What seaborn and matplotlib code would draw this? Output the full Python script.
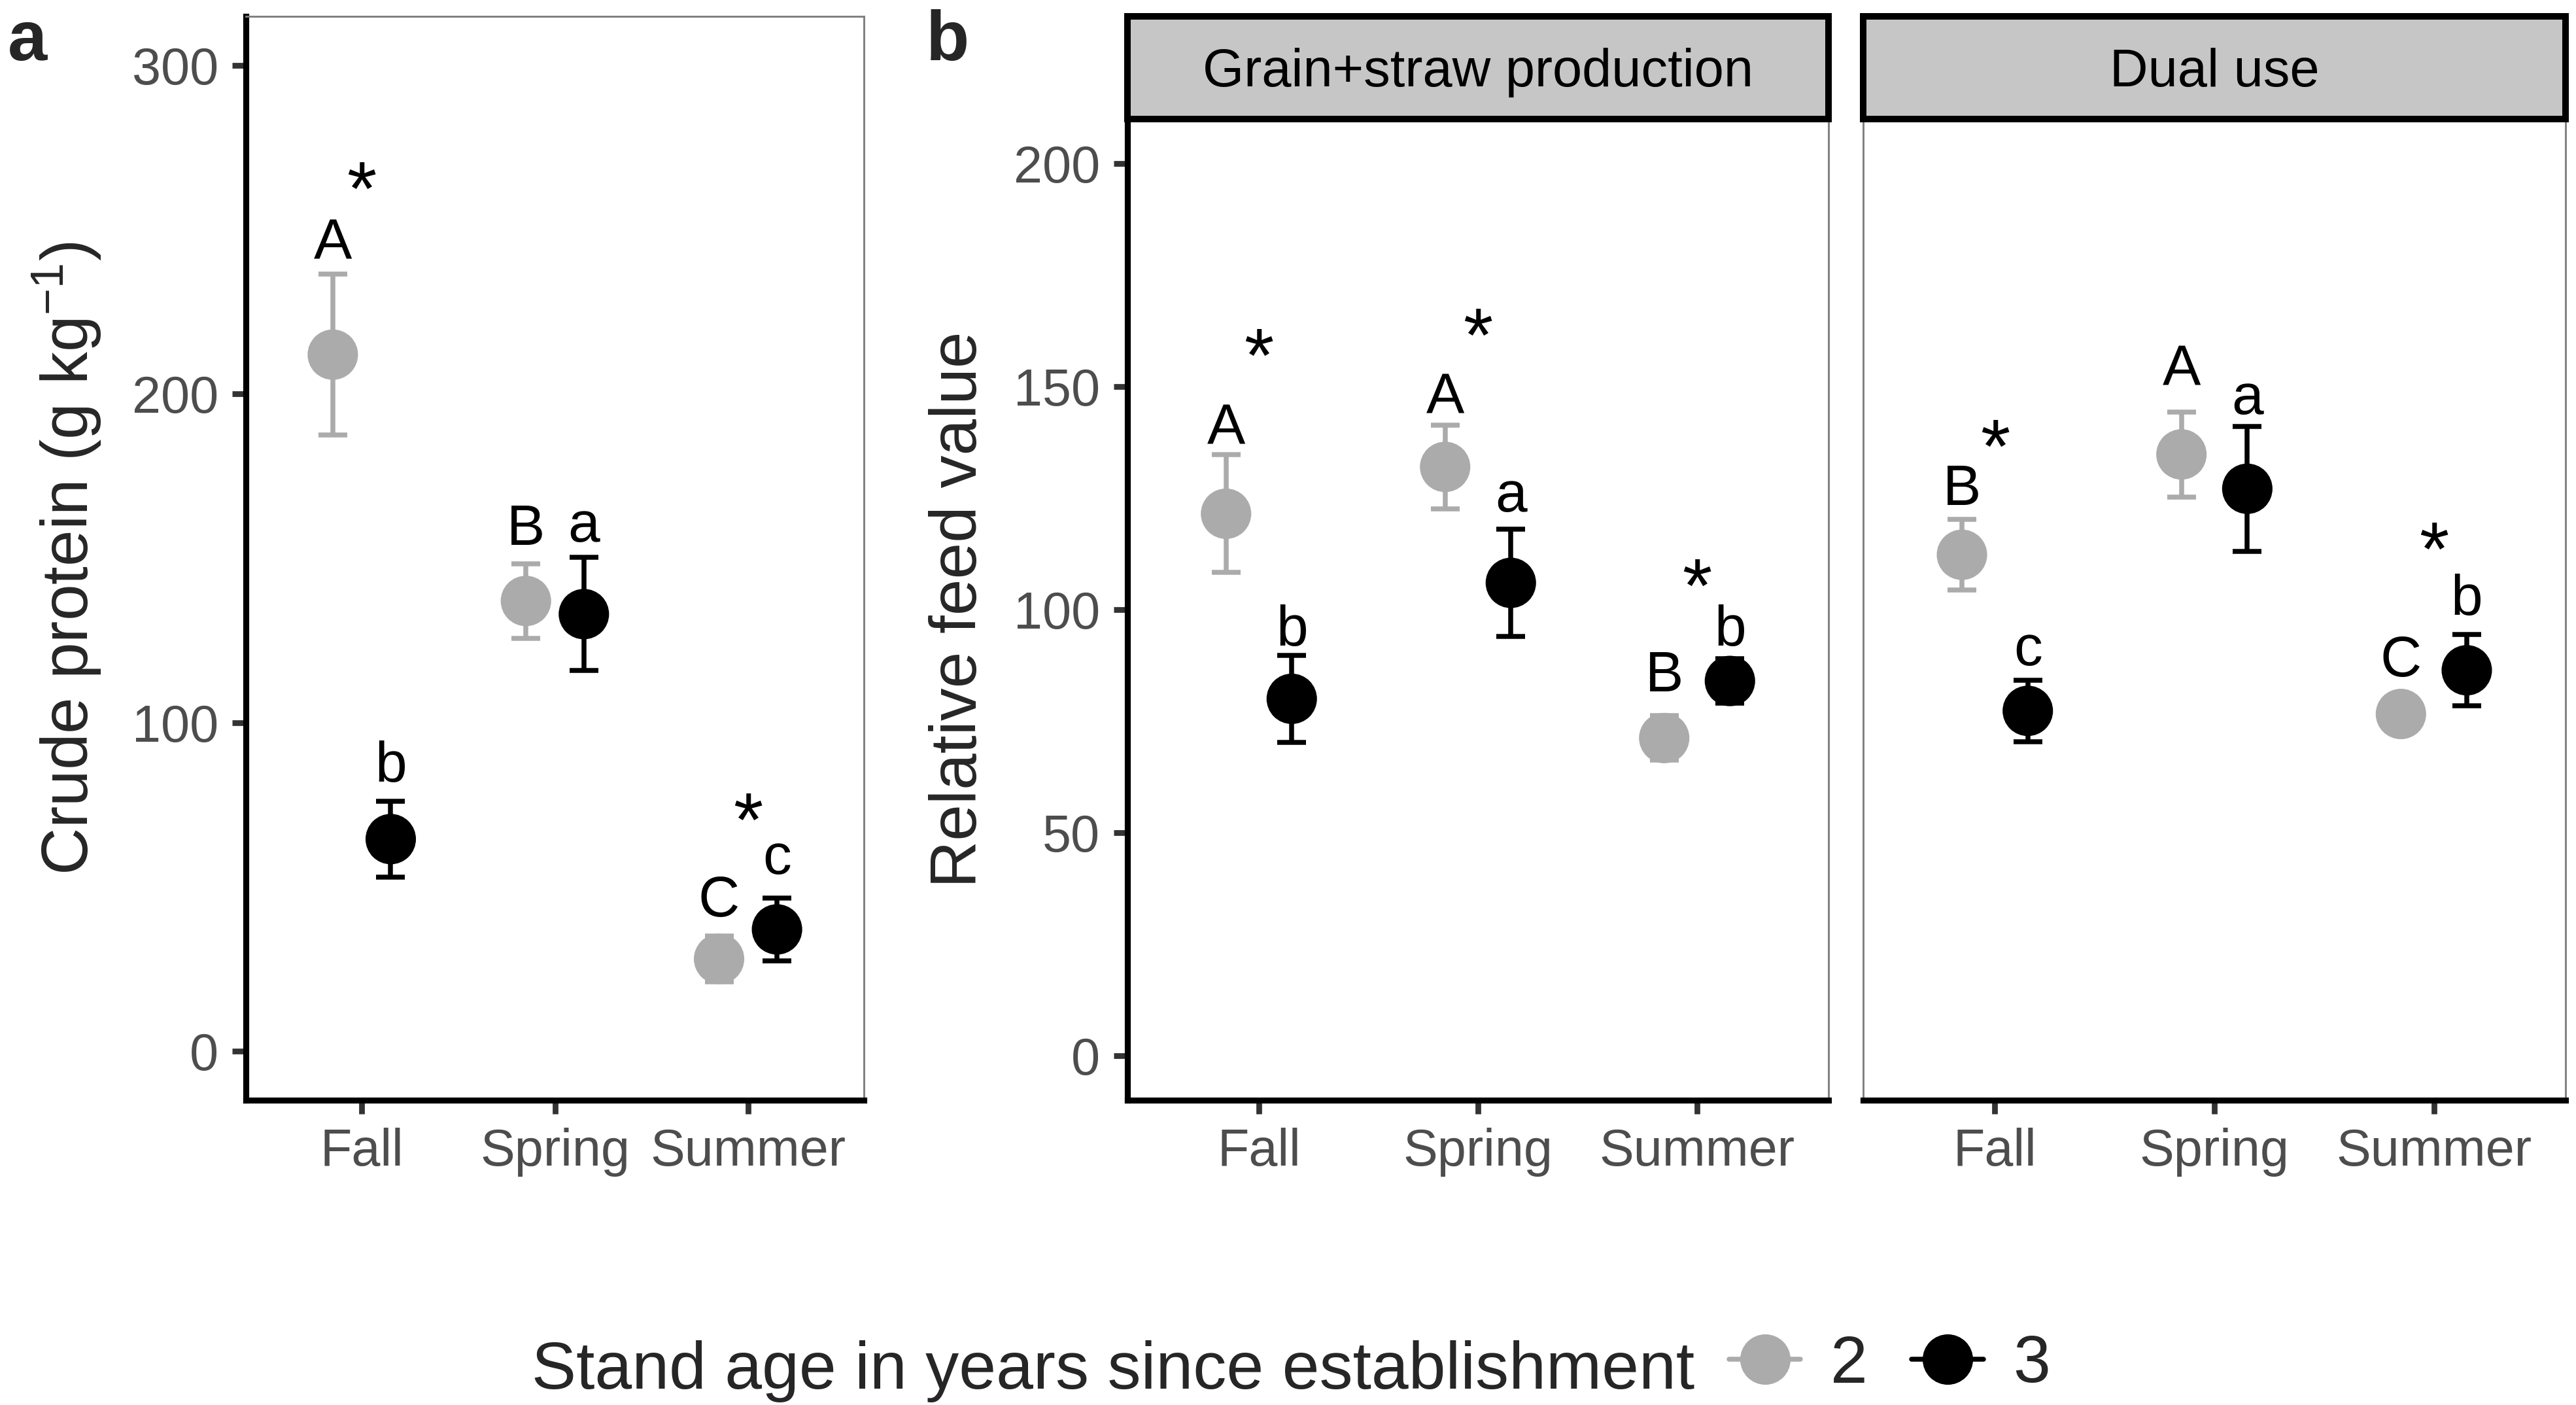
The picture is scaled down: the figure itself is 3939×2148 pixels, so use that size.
import numpy as np
import pandas as pd
import matplotlib
matplotlib.use("Agg")
import matplotlib.pyplot as plt
from matplotlib.lines import Line2D
import seaborn as sns

sns.set_style("white")
plt.rcParams["font.family"] = ["Liberation Sans", "DejaVu Sans"]
plt.rcParams["mathtext.fontset"] = "custom"
plt.rcParams["mathtext.rm"] = "Liberation Sans"
plt.rcParams["mathtext.it"] = "Liberation Sans:italic"
plt.rcParams["mathtext.bf"] = "Liberation Sans:bold"

seasons = ["Fall", "Spring", "Summer"]
ages = ["2", "3"]

# panel a - crude protein (g kg-1)
cp_mean_2 = [212, 137, 28]
cp_se_2 = [24.5, 11.3, 7]
cp_mean_3 = [64.5, 133, 37]
cp_se_3 = [11.5, 17.2, 9.6]
cp_let_2 = ["A", "B", "C"]
cp_let_3 = ["b", "a", "c"]
cp_let_y_2 = [241, 154, 41]
cp_let_y_3 = [82, 155, 54]
cp_star_y = [266, np.nan, 74]

# panel b - relative feed value, grain+straw production
gs_mean_2 = [121.5, 132, 71.2]
gs_se_2 = [13.2, 9.4, 5]
gs_mean_3 = [80, 106, 84]
gs_se_3 = [9.7, 12, 5]
gs_let_2 = ["A", "A", "B"]
gs_let_3 = ["b", "a", "b"]
gs_let_y_2 = [137, 144, 81.6]
gs_let_y_3 = [92, 122, 92]
gs_star_y = [159.6, 164.1, 108]

# panel b - relative feed value, dual use
du_mean_2 = [112.3, 134.8, 76.6]
du_se_2 = [7.9, 9.5, 3]
du_mean_3 = [77.3, 127.1, 86.4]
du_se_3 = [6.9, 14, 8]
du_let_2 = ["B", "A", "C"]
du_let_3 = ["c", "a", "b"]
du_let_y_2 = [123.4, 150.3, 85]
du_let_y_3 = [87.5, 143.9, 98.8]
du_star_y = [139.2, np.nan, 116.2]

pal = {"2": "#ABABAB", "3": "#000000"}
dodge = 0.15
W, H = 3939, 2148


def make_frame(m2, s2, m3, s3, l2, l3, ly2, ly3):
    df = pd.DataFrame({
        "season": seasons * 2,
        "age": ["2"] * 3 + ["3"] * 3,
        "mean": m2 + m3,
        "se": s2 + s3,
        "letter": l2 + l3,
        "letter_y": ly2 + ly3,
    })
    df["x"] = df["season"].map({s: i for i, s in enumerate(seasons)}) + \
        df["age"].map({"2": -dodge, "3": dodge})
    return df


def draw_panel(ax, df, star_y, ylim, yticks, left_axis=True):
    for age in ages:
        sub = df[df["age"] == age]
        ax.errorbar(sub["x"], sub["mean"], yerr=sub["se"], fmt="none",
                    ecolor=pal[age], elinewidth=1.8, capsize=5.3,
                    capthick=1.8, zorder=2)
    sns.scatterplot(data=df, x="x", y="mean", hue="age", palette=pal,
                    s=18.5 ** 2, linewidth=0, legend=False, ax=ax, zorder=3)
    for _, r in df.iterrows():
        ax.text(r["x"], r["letter_y"], r["letter"], ha="center",
                va="baseline", fontsize=21, color="black", zorder=4)
    for i, y in enumerate(star_y):
        if not np.isnan(y):
            ax.annotate("*", (i, y), xytext=(0, -14), textcoords="offset points",
                        ha="center", va="baseline", fontsize=28, color="black")
    ax.set_xlim(-0.6, 2.6)
    ax.set_ylim(*ylim)
    ax.set_xticks(range(3))
    ax.set_xticklabels(seasons)
    ax.set_xlabel("")
    ax.set_ylabel("")
    ax.set_yticks(yticks)
    ax.tick_params(axis="both", length=5, width=2.1, color="#333333",
                   labelsize=19, labelcolor="#4D4D4D", pad=5,
                   left=left_axis, bottom=True, labelleft=left_axis)
    for side in ["top", "right"]:
        ax.spines[side].set_color("#7F7F7F")
        ax.spines[side].set_linewidth(0.7)
    ax.spines["bottom"].set_color("black")
    ax.spines["bottom"].set_linewidth(2.2)
    if left_axis:
        ax.spines["left"].set_color("black")
        ax.spines["left"].set_linewidth(2.2)
    else:
        ax.spines["left"].set_color("#7F7F7F")
        ax.spines["left"].set_linewidth(0.7)


def add_strip(fig, left, width, label):
    sax = fig.add_axes([left, 1 - 182 / H, width, 157 / H])
    sax.set_facecolor("#C6C6C6")
    sax.set_xticks([])
    sax.set_yticks([])
    for sp in sax.spines.values():
        sp.set_color("black")
        sp.set_linewidth(2.4)
    sax.text(0.5, 0.32, label, transform=sax.transAxes, ha="center",
             va="baseline", fontsize=19.5, color="black")


fig = plt.figure(figsize=(W / 300, H / 300), dpi=300)

bottom = 1 - 1682 / H
ax_a = fig.add_axes([376 / W, bottom, (1321 - 376) / W, (1682 - 25) / H])
ax_b1 = fig.add_axes([1724 / W, bottom, (2796 - 1724) / W, (1682 - 182) / H])
ax_b2 = fig.add_axes([2849 / W, bottom, (3923 - 2849) / W, (1682 - 182) / H])

draw_panel(ax_a, make_frame(cp_mean_2, cp_se_2, cp_mean_3, cp_se_3,
                            cp_let_2, cp_let_3, cp_let_y_2, cp_let_y_3),
           cp_star_y, (-15, 315), [0, 100, 200, 300])
draw_panel(ax_b1, make_frame(gs_mean_2, gs_se_2, gs_mean_3, gs_se_3,
                             gs_let_2, gs_let_3, gs_let_y_2, gs_let_y_3),
           gs_star_y, (-10, 210), [0, 50, 100, 150, 200])
draw_panel(ax_b2, make_frame(du_mean_2, du_se_2, du_mean_3, du_se_3,
                             du_let_2, du_let_3, du_let_y_2, du_let_y_3),
           du_star_y, (-10, 210), [0, 50, 100, 150, 200], left_axis=False)

add_strip(fig, 1724 / W, (2796 - 1724) / W, "Grain+straw production")
add_strip(fig, 2849 / W, (3923 - 2849) / W, "Dual use")

fig.text(0.026, (bottom + 1 - 25 / H) / 2, r"Crude protein (g kg$^{-1}$)",
         rotation=90, ha="center", va="center", fontsize=24)
fig.text(0.3725, (bottom + 1 - 182 / H) / 2, "Relative feed value",
         rotation=90, ha="center", va="center", fontsize=24)

fig.text(12 / W, 1 - 92 / H, "a", fontsize=26, fontweight="bold", va="baseline")
fig.text(1416 / W, 1 - 92 / H, "b", fontsize=26, fontweight="bold", va="baseline")

# legend
fig.text(813 / W, 1 - 2123 / H, "Stand age in years since establishment",
         fontsize=24.5, va="baseline", ha="left")
handles = [Line2D([], [], color=pal[a], marker="o", markersize=18.5,
                  linewidth=1.8, markeredgewidth=0) for a in ages]
fig.legend(handles, ages, loc="center left",
           bbox_to_anchor=(2644 / W, 1 - 2087 / H), ncol=2, frameon=False,
           fontsize=24.5, handlelength=1.07, handletextpad=0.45,
           columnspacing=0.66, borderpad=0, borderaxespad=0)

fig.savefig("out.png", dpi=300)
